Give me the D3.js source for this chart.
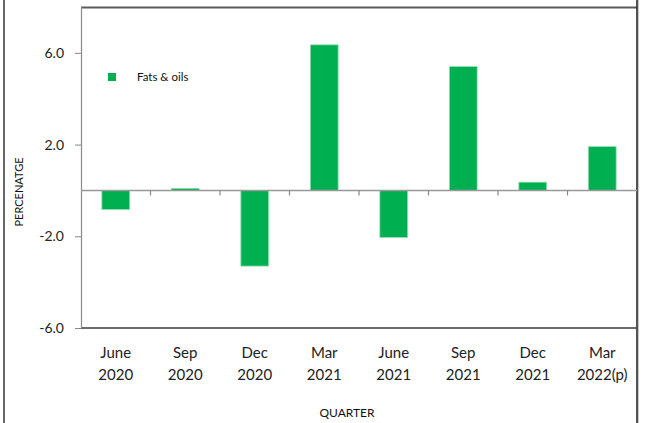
<!DOCTYPE html>
<html><head><meta charset="utf-8">
<script src="https://cdn.jsdelivr.net/npm/d3@7"></script>
<style>
html,body{margin:0;padding:0;background:#fff;}
svg{display:block;font-family:Lato,"Open Sans",sans-serif;}
</style></head>
<body>
<svg id="chart" width="646" height="423"></svg>
<script>
const categories = ["June 2020","Sep 2020","Dec 2020","Mar 2021","June 2021","Sep 2021","Dec 2021","Mar 2022(p)"];
const fatsOils = [-0.83, 0.09, -3.3, 6.35, -2.05, 5.4, 0.36, 1.91];
const yTicks = [-6, -2, 2, 6];
const seriesName = "Fats & oils";
const xTitle = "QUARTER";
const yTitle = "PERCENATGE";

const svg = d3.select("#chart");
const L = 81, R = 637, T = 7, B = 328;

const x = d3.scaleBand().domain(categories).range([L, R]).paddingInner(0.6).paddingOuter(0.3);
const y = d3.scaleLinear().domain([-6, 8]).range([B, T]);

// outer frame lines
svg.append("line").attr("x1",4).attr("x2",4).attr("y1",0).attr("y2",423).attr("stroke","#666").attr("stroke-width",2);
svg.append("line").attr("x1",R+1.5).attr("x2",R+1.5).attr("y1",0).attr("y2",423).attr("stroke","#c8c8c8").attr("stroke-width",1);

// plot border
svg.append("line").attr("x1",L).attr("x2",R).attr("y1",T+0.5).attr("y2",T+0.5).attr("stroke","#5a5a5a").attr("stroke-width",2);
svg.append("line").attr("x1",R).attr("x2",R).attr("y1",0).attr("y2",423).attr("stroke","#1a1a1a").attr("stroke-width",1.5);
svg.append("line").attr("x1",L).attr("x2",R).attr("y1",B).attr("y2",B).attr("stroke","#3a3a3a").attr("stroke-width",1.5);

// y axis
const fmt = d => d3.format(".1f")(d).replace("\u2212","-");
const yAxis = d3.axisLeft(y).tickValues(yTicks).tickFormat(fmt).tickSize(6).tickPadding(11);
const gy = svg.append("g").attr("transform",`translate(${L},0)`).call(yAxis);
gy.select(".domain").remove();
gy.selectAll(".tick line").attr("stroke","#888");
gy.selectAll(".tick text").attr("font-size",14).attr("fill","#222").style("font-family","Lato, sans-serif");
svg.append("line").attr("x1",L+0.5).attr("x2",L+0.5).attr("y1",T).attr("y2",B).attr("stroke","#8a8a8a").attr("stroke-width",1.2);

// bars
svg.append("g").selectAll("rect").data(fatsOils).join("rect")
  .attr("x",(d,i)=>x(categories[i]))
  .attr("width",x.bandwidth())
  .attr("y",d=>y(Math.max(0,d)))
  .attr("height",d=>Math.abs(y(d)-y(0)))
  .attr("fill","#00b050")
  .attr("stroke","#8fe0b0")
  .attr("stroke-width",0.8);

// zero line with tick marks at category boundaries
const y0 = y(0);
svg.append("line").attr("x1",L).attr("x2",R).attr("y1",y0).attr("y2",y0).attr("stroke","#999").attr("stroke-width",1.5);
const bounds = categories.slice(1).map(c => x(c) - (x.step()-x.bandwidth())/2);
svg.append("g").selectAll("line").data(bounds).join("line")
  .attr("x1",d=>d).attr("x2",d=>d).attr("y1",y0).attr("y2",y0+5)
  .attr("stroke","#888").attr("stroke-width",1.2);

// x labels
const xl = svg.append("g").selectAll("text").data(categories).join("text")
  .attr("text-anchor","middle").attr("font-size",15).attr("fill","#222");
xl.each(function(d){
  const parts = d.split(" ");
  const t = d3.select(this);
  const cx = x(d) + x.bandwidth()/2;
  t.append("tspan").attr("x",cx).attr("y",358).text(parts[0]);
  t.append("tspan").attr("x",cx).attr("y",380).text(parts[1]);
});

// axis titles
svg.append("text").attr("x",347).attr("y",417).attr("text-anchor","middle").attr("font-size",12).attr("fill","#111").text(xTitle);
svg.append("text").attr("transform","translate(23,192) rotate(-90)").attr("text-anchor","middle").attr("font-size",11).attr("fill","#111").text(yTitle);

// legend
svg.append("rect").attr("x",108).attr("y",73).attr("width",8).attr("height",8).attr("fill","#00b050");
svg.append("text").attr("x",137).attr("y",81).attr("font-size",11.5).attr("fill","#111").text(seriesName);
</script>
</body></html>
